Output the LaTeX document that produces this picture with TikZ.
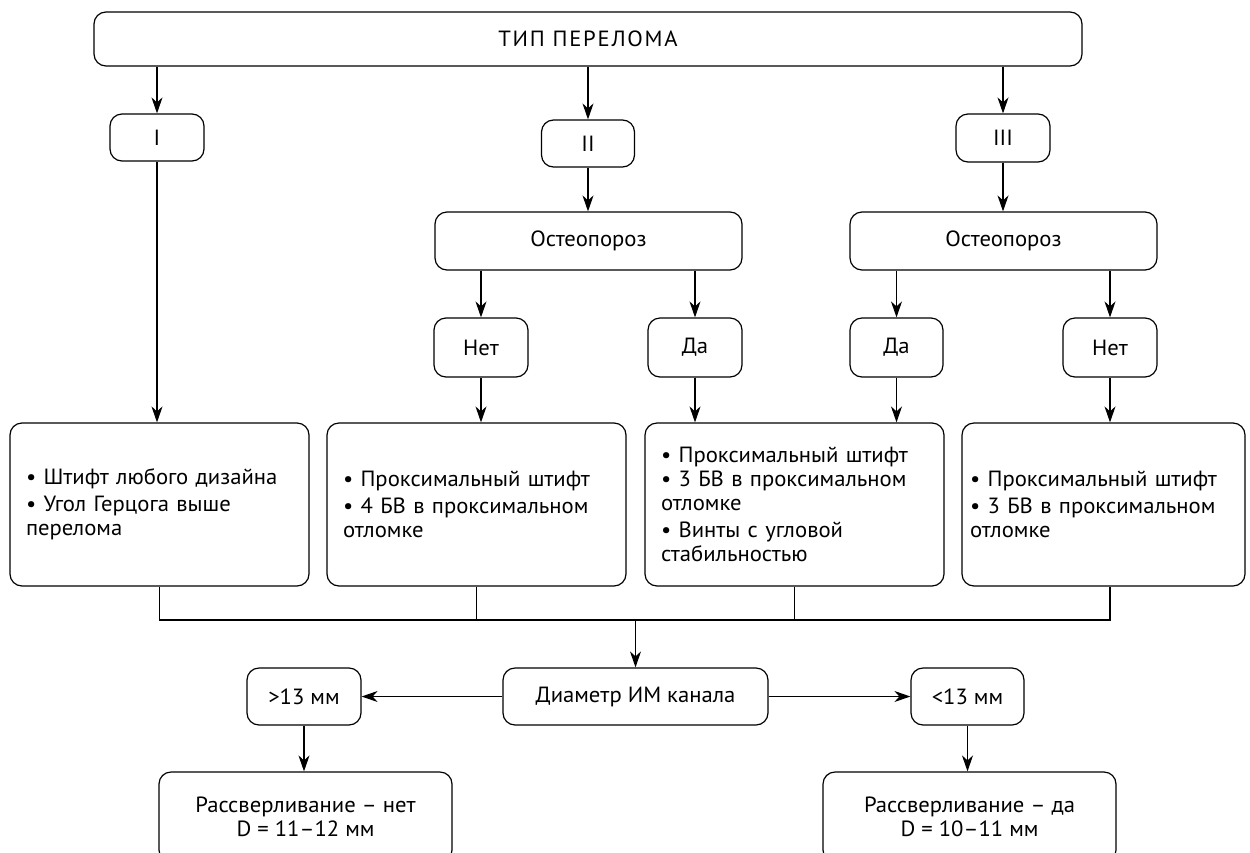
\documentclass[tikz,border=0pt]{standalone}
\usepackage{fontspec}
\setmainfont{PT Sans}[FakeStretch=1.03]
\usepackage{tikz}
\usetikzlibrary{arrows.meta}

\begin{document}
\begin{tikzpicture}[x=1pt,y=-1pt,
every node/.style={font=\fontsize{22}{24}\selectfont},
box/.style={draw,line width=1.2pt,rounded corners=12pt,inner sep=0pt,align=center},
tbox/.style={box,minimum width=#1},
list/.style={box,align=left,minimum height=163pt,text width=267pt,inner xsep=#1},
line/.style={line width=1.1pt},
arr/.style={line,-{Stealth[length=16pt,width=11pt,inset=5pt]}}
]
\useasboundingbox (0,0) rectangle (1250,852);
% top level
\node[tbox=988pt,minimum height=54pt,font=\fontsize{22}{24}\selectfont\addfontfeatures{LetterSpace=8}] (type) at (588,39) {ТИП ПЕРЕЛОМА};
\node[tbox=94pt,minimum height=47pt] (t1) at (157,137.5) {I};
\node[tbox=93pt,minimum height=47pt] (t2) at (588,143.5) {II};
\node[tbox=94pt,minimum height=48pt] (t3) at (1003,138) {III};
% osteoporosis
\node[tbox=307pt,minimum height=58pt] (osteoL) at (588.5,241) {Остеопороз};
\node[tbox=307pt,minimum height=58pt] (osteoR) at (1003.5,241) {Остеопороз};
\node[tbox=94pt,minimum height=59pt] (netL) at (481,347.5) {Нет};
\node[tbox=94pt,minimum height=59pt] (daL) at (695,347.5) {Да};
\node[tbox=93pt,minimum height=59pt] (daR) at (896.5,347.5) {Да};
\node[tbox=94pt,minimum height=59pt] (netR) at (1110,347.5) {Нет};
% recommendations
\node[list=16pt] (big1) at (159.5,504.5) {• Штифт любого дизайна\\[3pt]• Угол Герцога выше\\перелома};
\node[list=16pt] (big2) at (476.5,504.5) {• Проксимальный штифт\\[3pt]• 4 БВ в проксимальном\\отломке};
\node[list=16pt] (big3) at (794.5,504.5) {• Проксимальный штифт\\• 3 БВ в проксимальном\\отломке\\[3pt]• Винты с угловой\\стабильностью};
\node[list=8pt] (big4) at (1103.5,504.5) {• Проксимальный штифт\\[3pt]• 3 БВ в проксимальном\\отломке};
% canal diameter
\node[tbox=265pt,minimum height=57pt] (diam) at (635.5,696.5) {Диаметр ИМ канала};
\node[tbox=114pt,minimum height=57pt] (gt) at (304,696.5) {>13 мм};
\node[tbox=113pt,minimum height=57pt] (lt) at (967.5,696.5) {<13 мм};
\node[tbox=293pt,minimum height=90pt] (drillN) at (305.5,817) {Рассверливание – нет\\D = 11–12 мм};
\node[tbox=293pt,minimum height=90pt] (drillY) at (969.5,817) {Рассверливание – да\\D = 10–11 мм};
\coordinate (join) at (635.5,620);

\draw[arr] (type.south -| t1) -- (t1);
\draw[arr] (type.south -| t2) -- (t2);
\draw[arr] (type.south -| t3) -- (t3);
\draw[arr] (t1) -- (t1 |- big1.north);
\draw[arr] (t2) -- (osteoL.north -| t2);
\draw[arr] (t3) -- (osteoR.north -| t3);
\draw[arr] (osteoL.south -| netL) -- (netL);
\draw[arr] (osteoL.south -| daL) -- (daL);
\draw[arr] (osteoR.south -| daR) -- (daR);
\draw[arr] (osteoR.south -| netR) -- (netR);
\draw[arr] (netL) -- (netL |- big2.north);
\draw[arr] (daL) -- (daL |- big3.north);
\draw[arr] (daR) -- (daR |- big3.north);
\draw[arr] (netR) -- (netR |- big4.north);
\draw[line] (big1.south) -- (big1.south |- join) -- (join -| netR) -- (big4.south -| netR);
\draw[line] (big2.south) -- (big2.south |- join);
\draw[line] (big3.south) -- (big3.south |- join);
\draw[arr] (join) -- (diam);
\draw[arr] (diam) -- (gt);
\draw[arr] (diam) -- (lt);
\draw[arr] (gt) -- (gt |- drillN.north);
\draw[arr] (lt) -- (lt |- drillY.north);
\end{tikzpicture}
\end{document}
